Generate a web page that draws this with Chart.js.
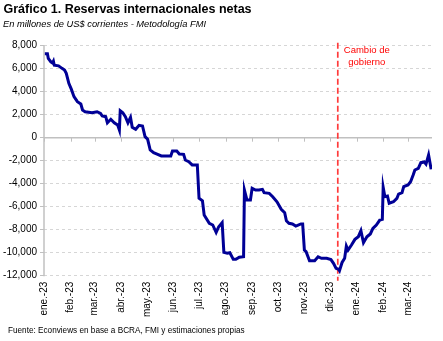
<!DOCTYPE html>
<html>
<head>
<meta charset="utf-8">
<script src="https://cdn.jsdelivr.net/npm/chart.js@4.4.1/dist/chart.umd.min.js"></script>
<style>
  body { margin: 0; background: #fff; }
  #wrap { position: relative; width: 443px; height: 341px; }
  #chart { position: absolute; left: 0; top: 0; }
  .txt { position: absolute; font-family: "Liberation Sans", Arial, sans-serif; color: #000; white-space: nowrap; }
  #title { left: 3.5px; top: 3.4px; font-size: 12.5px; line-height: 12.5px; font-weight: bold; }
  #subtitle { left: 3px; top: 19.5px; font-size: 9.3px; line-height: 9.3px; font-style: italic; }
  #source { left: 8px; top: 327px; font-size: 8.2px; line-height: 8.2px; }
</style>
</head>
<body>
<div id="wrap">
  <canvas id="chart" width="443" height="341"></canvas>
  <div class="txt" id="title">Gráfico 1. Reservas internacionales netas</div>
  <div class="txt" id="subtitle">En millones de US$ corrientes - Metodología FMI</div>
  <div class="txt" id="source">Fuente: Econviews en base a BCRA, FMI y estimaciones propias</div>
</div>
<script>
// fechas y reservas netas (millones de US$)
var dates = [
  "2023-01-02", "2023-01-05", "2023-01-06", "2023-01-09", "2023-01-11", "2023-01-12",
  "2023-01-13", "2023-01-18", "2023-01-22", "2023-01-25", "2023-01-27", "2023-01-30",
  "2023-02-02", "2023-02-05", "2023-02-09", "2023-02-13", "2023-02-15", "2023-02-18",
  "2023-02-26", "2023-03-04", "2023-03-08", "2023-03-10", "2023-03-14", "2023-03-16",
  "2023-03-20", "2023-03-24", "2023-03-28", "2023-03-30", "2023-03-31", "2023-04-03",
  "2023-04-06", "2023-04-09", "2023-04-12", "2023-04-14", "2023-04-18", "2023-04-22",
  "2023-04-26", "2023-04-29", "2023-05-02", "2023-05-05", "2023-05-09", "2023-05-13",
  "2023-05-18", "2023-05-29", "2023-05-31", "2023-06-05", "2023-06-08", "2023-06-13",
  "2023-06-15", "2023-06-19", "2023-06-23", "2023-06-29", "2023-07-01", "2023-07-05",
  "2023-07-07", "2023-07-13", "2023-07-17", "2023-07-21", "2023-07-24", "2023-07-28",
  "2023-07-30", "2023-08-03", "2023-08-06", "2023-08-10", "2023-08-13", "2023-08-17",
  "2023-08-22", "2023-08-23", "2023-08-26", "2023-08-30", "2023-09-01", "2023-09-05",
  "2023-09-09", "2023-09-13", "2023-09-15", "2023-09-21", "2023-09-25", "2023-09-30",
  "2023-10-05", "2023-10-09", "2023-10-11", "2023-10-14", "2023-10-18", "2023-10-22",
  "2023-10-28", "2023-10-30", "2023-11-01", "2023-11-03", "2023-11-07", "2023-11-13",
  "2023-11-17", "2023-11-21", "2023-11-27", "2023-12-02", "2023-12-05", "2023-12-08",
  "2023-12-11", "2023-12-12", "2023-12-15", "2023-12-18", "2023-12-20", "2023-12-22",
  "2023-12-26", "2023-12-30", "2024-01-03", "2024-01-06", "2024-01-09", "2024-01-13",
  "2024-01-17", "2024-01-20", "2024-01-24", "2024-01-28", "2024-01-31", "2024-02-01",
  "2024-02-03", "2024-02-06", "2024-02-08", "2024-02-13", "2024-02-17", "2024-02-19",
  "2024-02-23", "2024-02-25", "2024-03-01", "2024-03-04", "2024-03-07", "2024-03-09",
  "2024-03-13", "2024-03-16", "2024-03-20", "2024-03-22", "2024-03-25", "2024-03-28"
];

var reservas = [
  7300, 7300, 6900, 6600, 6500, 6650,
  6300, 6250, 6030, 5890, 5600, 4730,
  4200, 3570, 3130, 2930, 2410, 2260,
  2170, 2260, 2120, 1890, 1830, 1300,
  1600, 1300, 1100, 670, 2350, 2170,
  1830, 1300, 1770, 900, 730, 1080,
  1020, 90, -140, -1070, -1300, -1420,
  -1590, -1590, -1160, -1160, -1420, -1450,
  -1940, -2090, -2370, -2370, -5270, -5480,
  -6720, -7440, -7590, -8230, -7740, -7390,
  -9970, -10050, -10000, -10580, -10580, -10400,
  -10350, -4550, -5420, -5420, -4400, -4550,
  -4550, -4490, -4780, -4840, -5130, -5570,
  -6230, -6520, -7220, -7440, -7500, -7680,
  -7500, -7500, -9770, -9910, -10700, -10700,
  -10350, -10490, -10490, -10600, -10920, -11360,
  -11440, -11560, -10850, -10490, -9420, -9770,
  -9330, -8840, -8610, -8090, -9130, -8610,
  -8370, -7880, -7590, -7160, -7100, -4310,
  -5130, -5070, -5700, -5570, -5270, -4900,
  -4780, -4260, -4110, -3830, -3240, -2810,
  -2660, -2170, -2110, -2290, -1500, -2750
];

var tickDates = [
  "2023-01-01", "2023-02-01", "2023-03-01", "2023-04-01", "2023-05-01",
  "2023-06-01", "2023-07-01", "2023-08-01", "2023-09-01", "2023-10-01",
  "2023-11-01", "2023-12-01", "2024-01-01", "2024-02-01", "2024-03-01"
];
var tickLabels = [
  "ene.-23", "feb.-23", "mar.-23", "abr.-23", "may.-23",
  "jun.-23", "jul.-23", "ago.-23", "sep.-23", "oct.-23",
  "nov.-23", "dic.-23", "ene.-24", "feb.-24", "mar.-24"
];

var yTicks = [8000, 6000, 4000, 2000, 0, -2000, -4000, -6000, -8000, -10000, -12000];

var cambioFecha = "2023-12-10";
var cambioTexto = ["Cambio de", "gobierno"];
var startDate = "2023-01-01";
var endDate = "2024-03-29";

function dayOf(s) {
  var p = s.split("-");
  var t = Date.UTC(+p[0], +p[1] - 1, +p[2]);
  var p0 = startDate.split("-");
  return (t - Date.UTC(+p0[0], +p0[1] - 1, +p0[2])) / 86400000;
}

var points = dates.map(function (d, i) {
  return { x: dayOf(d), y: reservas[i] };
});
var tickDays = tickDates.map(dayOf);

// eje vertical, linea del cero con marcas mensuales + linea de cambio de gobierno
var extras = {
  id: "extras",
  beforeDatasetsDraw: function (chart) {
    var ctx = chart.ctx;
    var xs = chart.scales.x, ys = chart.scales.y;
    var area = chart.chartArea;
    var y0 = ys.getPixelForValue(0);
    ctx.save();
    ctx.strokeStyle = "#c0c0c0";
    ctx.lineWidth = 1.5;
    ctx.beginPath();
    ctx.moveTo(area.left, area.top - 0.5);
    ctx.lineTo(area.left, area.bottom + 0.5);
    ctx.stroke();
    ctx.beginPath();
    ctx.moveTo(area.left, y0);
    ctx.lineTo(area.right, y0);
    ctx.stroke();
    ctx.lineWidth = 1;
    tickDays.forEach(function (d) {
      var px = Math.round(xs.getPixelForValue(d)) + 0.5;
      ctx.beginPath();
      ctx.moveTo(px, y0);
      ctx.lineTo(px, y0 + 4);
      ctx.stroke();
    });

    var xc = xs.getPixelForValue(dayOf(cambioFecha));
    ctx.strokeStyle = "#ff3b3b";
    ctx.lineWidth = 1.7;
    ctx.setLineDash([6, 3]);
    ctx.beginPath();
    ctx.moveTo(xc, area.top - 3);
    ctx.lineTo(xc, area.bottom + 5);
    ctx.stroke();
    ctx.setLineDash([]);

    ctx.fillStyle = "#ff0000";
    ctx.font = "9.5px 'Liberation Sans', Arial, sans-serif";
    ctx.textAlign = "center";
    ctx.textBaseline = "alphabetic";
    ctx.fillText(cambioTexto[0], xc + 29, 53);
    ctx.fillText(cambioTexto[1], xc + 29, 64.5);
    ctx.restore();
  }
};

new Chart(document.getElementById("chart"), {
  type: "line",
  data: {
    datasets: [
      {
        data: points,
        borderColor: "#000096",
        borderWidth: 3,
        pointRadius: 0,
        tension: 0,
        fill: false,
      },
    ],
  },
  options: {
    responsive: false,
    animation: false,
    events: [],
    layout: { padding: { top: 45.7, right: 11, bottom: 0, left: 0 } },
    plugins: {
      legend: { display: false },
      tooltip: { enabled: false },
    },
    scales: {
      x: {
        type: "linear",
        min: 0,
        max: dayOf(endDate),
        afterBuildTicks: function (scale) {
          scale.ticks = tickDays.map(function (d) { return { value: d }; });
        },
        afterFit: function (scale) { scale.height = 65.3; },
        grid: { display: false, drawTicks: false },
        border: { display: false },
        ticks: {
          autoSkip: false,
          maxRotation: 90,
          minRotation: 90,
          padding: 6,
          color: "#000",
          font: { family: "'Liberation Sans', Arial, sans-serif", size: 10 },
          callback: function (value, index) { return tickLabels[index]; },
        },
      },
      y: {
        min: -12000,
        max: 8000,
        afterBuildTicks: function (scale) {
          scale.ticks = yTicks.map(function (v) { return { value: v }; });
        },
        afterFit: function (scale) { scale.width = 44; },
        grid: {
          color: "#d6d6d6",
          lineWidth: 1,
          drawTicks: true,
          tickLength: 4,
          tickColor: "#c0c0c0",
          tickBorderDash: [],
        },
        border: { display: false, dash: [3, 3] },
        ticks: {
          padding: 3,
          color: "#000",
          font: { family: "'Liberation Sans', Arial, sans-serif", size: 10 },
          callback: function (v) { return v.toLocaleString("en-US"); },
        },
      },
    },
  },
  plugins: [extras],
});
</script>
</body>
</html>
